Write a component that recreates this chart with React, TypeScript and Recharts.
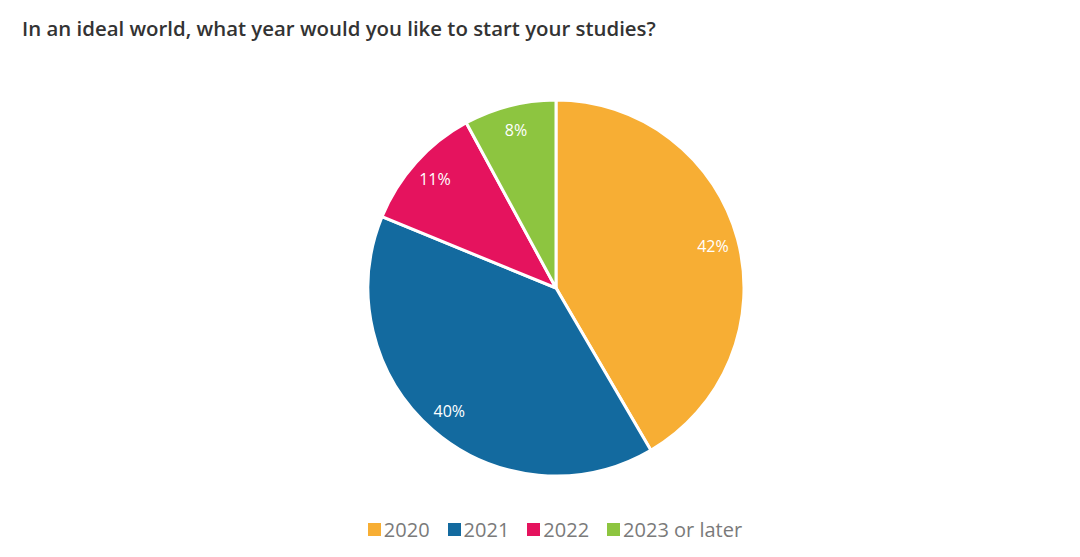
import React from "react";
import { PieChart, Pie, Cell, Legend } from "recharts";

const categories = ["2020", "2021", "2022", "2023 or later"];
const values = [42, 40, 11, 8];
const colors = ["#F7AE34", "#136A9F", "#E5135E", "#8DC540"];
const title = "In an ideal world, what year would you like to start your studies?";

const data = categories.map((name, i) => ({ name, value: values[i] }));

const RAD = Math.PI / 180;

const renderLabel = (props: any) => {
  const { cx, cy, midAngle, outerRadius, value } = props;
  const r = outerRadius * 0.865;
  const x = cx + r * Math.cos(-midAngle * RAD);
  const y = cy + r * Math.sin(-midAngle * RAD);
  return (
    <text
      x={x}
      y={y}
      fill="#ffffff"
      fontSize={16}
      fontFamily="'Open Sans', sans-serif"
      textAnchor="middle"
      dominantBaseline="central"
    >
      {value}%
    </text>
  );
};

const renderLegend = (props: any) => {
  const { payload } = props;
  return (
    <div
      style={{
        display: "flex",
        justifyContent: "center",
        gap: 18,
        fontFamily: "'Open Sans', sans-serif",
        fontSize: 20,
        color: "#7a7a7a",
        transform: "translateX(15px)",
      }}
    >
      {payload.map((p: any, i: number) => (
        <div key={i} style={{ display: "flex", alignItems: "center" }}>
          <span
            style={{
              display: "inline-block",
              width: 13,
              height: 13,
              background: p.color,
              marginRight: 3,
            }}
          />
          <span>{p.value}</span>
        </div>
      ))}
    </div>
  );
};

export default function App() {
  return (
    <div
      style={{
        position: "absolute",
        left: 0,
        top: 0,
        width: 1080,
        height: 557,
        background: "#ffffff",
      }}
    >
      <div
        style={{
          position: "absolute",
          left: 22,
          top: 14,
          fontFamily: "'Open Sans', sans-serif",
          fontWeight: 600,
          fontSize: 20.4,
          color: "#333",
          whiteSpace: "nowrap",
        }}
      >
        {title}
      </div>
      <PieChart
        width={1080}
        height={557}
        margin={{ top: 0, right: 0, bottom: 0, left: 0 }}
      >
        <Pie
          data={data}
          dataKey="value"
          nameKey="name"
          cx={556}
          cy={288}
          outerRadius={188}
          startAngle={90}
          endAngle={-270}
          stroke="#ffffff"
          strokeWidth={3}
          label={renderLabel}
          labelLine={false}
          isAnimationActive={false}
        >
          {data.map((d, i) => (
            <Cell key={d.name} fill={colors[i]} />
          ))}
        </Pie>
        <Legend
          content={renderLegend}
          verticalAlign="bottom"
          wrapperStyle={{ bottom: 14, left: 0, width: 1080 }}
        />
      </PieChart>
    </div>
  );
}
